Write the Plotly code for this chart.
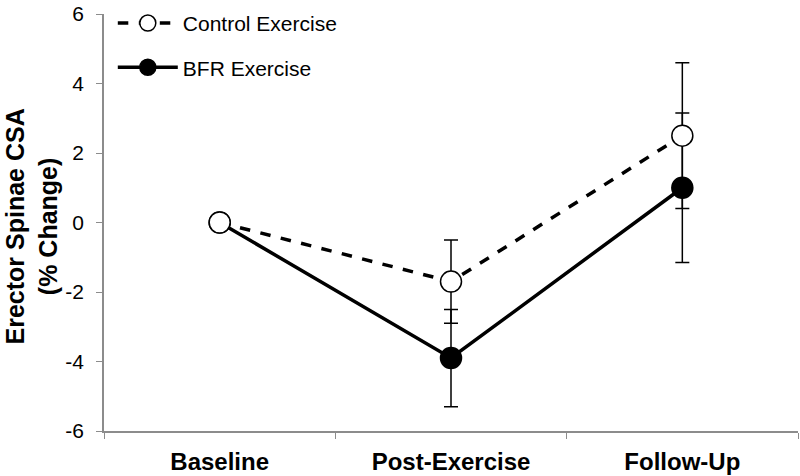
import plotly.graph_objects as go

categories = ["Baseline", "Post-Exercise", "Follow-Up"]
control_vals = [0, -1.7, 2.5]
control_err = [0, 1.2, 2.1]
bfr_vals = [0, -3.9, 1.0]
bfr_err = [0, 1.4, 2.15]
y_ticks = [-6, -4, -2, 0, 2, 4, 6]

fig = go.Figure()

fig.add_trace(go.Scatter(
    x=categories, y=bfr_vals, name="BFR Exercise", mode="lines+markers",
    legendgroup="b", legendrank=2,
    line=dict(color="black", width=3.5),
    marker=dict(size=21, color="black", line=dict(color="black", width=1.5)),
    error_y=dict(type="data", array=bfr_err, color="black", thickness=1.5, width=7),
))
fig.add_trace(go.Scatter(
    x=categories, y=control_vals, name="Control Exercise", mode="lines+markers",
    legendgroup="a", legendrank=1,
    line=dict(color="black", width=3.5, dash="dash"),
    marker=dict(size=21, color="white", line=dict(color="black", width=1.5)),
    error_y=dict(type="data", array=control_err, color="black", thickness=1.5, width=7),
))

fig.update_layout(
    width=800, height=476,
    margin=dict(l=104, r=2, t=14, b=45, autoexpand=False),
    plot_bgcolor="white", paper_bgcolor="white",
    font=dict(family="Liberation Sans, Arial", size=21, color="black"),
    showlegend=True,
    legend=dict(x=0.141, y=0.994, xref="container", yref="container",
                xanchor="left", yanchor="top",
                bgcolor="rgba(0,0,0,0)", font=dict(size=21), itemwidth=60,
                tracegroupgap=14),
    annotations=[dict(
        text="<b>Erector Spinae CSA<br>(% Change)</b>", xref="paper", yref="paper",
        x=-0.104, y=0.49, xanchor="center", yanchor="middle", textangle=-90,
        showarrow=False, font=dict(size=25, color="black"),
    )],
)

fig.update_xaxes(
    type="category", categoryorder="array", categoryarray=categories,
    range=[-0.5, 2.5], showline=True, linecolor="#8c8c8c", linewidth=1.5,
    ticks="outside", tickson="boundaries", ticklen=6, tickcolor="#8c8c8c",
    tickfont=dict(family="Liberation Sans, Arial", size=24, color="black", weight="bold"),
    showgrid=False, zeroline=False, ticklabelstandoff=8, automargin=False,
)
fig.update_yaxes(
    range=[-6, 6], tickvals=y_ticks, ticktext=[str(v) for v in y_ticks],
    showline=True, linecolor="#8c8c8c", linewidth=1.5,
    ticks="outside", ticklen=6, tickcolor="#8c8c8c",
    tickfont=dict(size=21, color="black"), ticklabelstandoff=8,
    ticklabeloverflow="allow",
    showgrid=False, zeroline=False, automargin=False,
)

fig.write_html("out.html", config={"displayModeBar": False},
               post_script="document.body.style.margin='0px';")
